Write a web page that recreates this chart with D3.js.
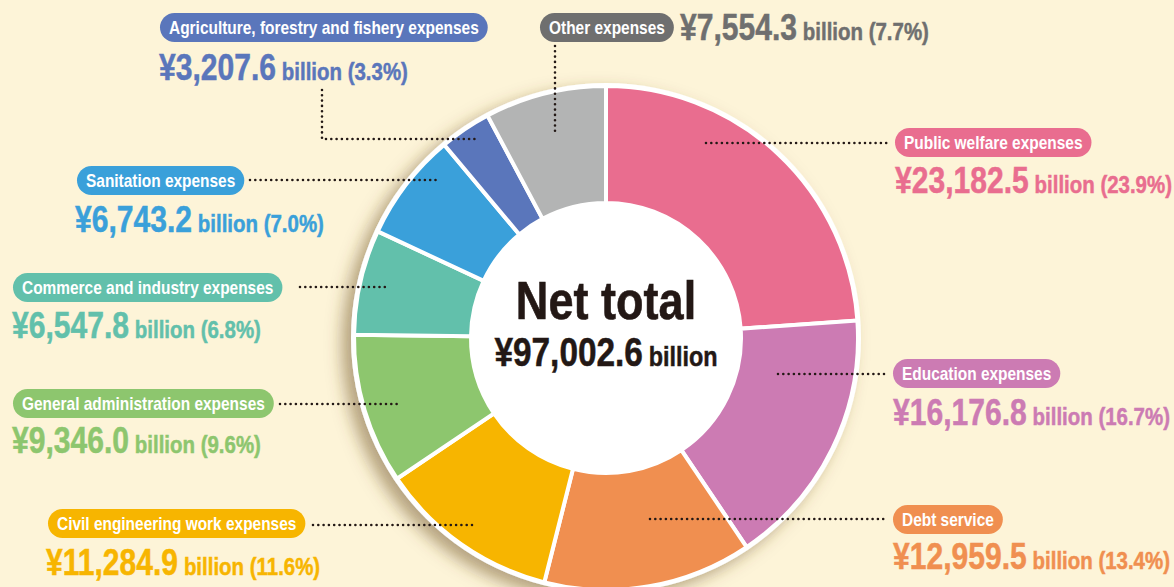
<!DOCTYPE html>
<html>
<head>
<meta charset="utf-8">
<script src="https://cdn.jsdelivr.net/npm/d3@7"></script>
<style>
  html, body { margin: 0; padding: 0; background: #fdf4d8; }
  svg { display: block; }
  text { font-family: "Liberation Sans", Arial, sans-serif; font-weight: bold; }
</style>
</head>
<body>
<div id="chart"></div>
<script>
// Data (billion yen), clockwise from 12 o'clock
const categories = [
    "Public welfare expenses",
    "Education expenses",
    "Debt service",
    "Civil engineering work expenses",
    "General administration expenses",
    "Commerce and industry expenses",
    "Sanitation expenses",
    "Agriculture, forestry and fishery expenses",
    "Other expenses"
];
const amounts = [23182.5, 16176.8, 12959.5, 11284.9, 9346.0, 6547.8, 6743.2, 3207.6, 7554.3];
const shares = [23.9, 16.7, 13.4, 11.6, 9.6, 6.8, 7.0, 3.3, 7.7];
const netTotal = 97002.6;

const colors = ["#e96d8f", "#cc7bb3", "#f08f50", "#f7b500", "#8dc66e", "#62c0ab", "#3aa0da", "#5a76bb", "#b3b4b4"];
// label colours (pill + text), only "Other" differs from its slice
const labelColors = ["#e96d8f", "#cc7bb3", "#f08f50", "#f7b500", "#8dc66e", "#62c0ab", "#3aa0da", "#5a76bb", "#6f6f6f"];

// label layout: pill top-left, value baseline, leader line
const layout = [
    { px: 895, py: 128, vx: 895, vy: 193, line: [[706, 143], [889, 143]] },
    { px: 893, py: 359, vx: 893, vy: 425, line: [[778, 374], [888, 374]] },
    { px: 893, py: 505, vx: 893, vy: 569, line: [[650, 519], [888, 519]] },
    { px: 48,  py: 509, vx: 46,  vy: 575, line: [[313, 525], [475, 525]] },
    { px: 13,  py: 389, vx: 12,  vy: 453, line: [[280, 404], [400, 404]] },
    { px: 13,  py: 273, vx: 12,  vy: 338, line: [[300, 287], [390, 287]] },
    { px: 77,  py: 166, vx: 75,  vy: 232, line: [[250, 180], [437, 180]] },
    { px: 160, py: 13,  vx: 159, vy: 80,  line: [[322, 90], [322, 139], [476, 139]] },
    { px: 540, py: 13,  vx: 680, vy: 40,  line: [[555, 46], [555, 132]] }
];

const width = 1174, height = 587;
const cx = 606, cy = 338;
const outerR = 252, innerR = 135;
const squeeze = 0.835;   // condensed look from a regular bold face

const svg = d3.select('#chart')
    .append('svg')
    .attr('width', width)
    .attr('height', height);

svg.append('rect')
    .attr('width', width)
    .attr('height', height)
    .attr('fill', '#fdf4d8');

// soft shadow under the ring
const defs = svg.append('defs');
defs.append('filter')
    .attr('id', 'shadow')
    .attr('x', '-20%').attr('y', '-20%')
    .attr('width', '140%').attr('height', '140%')
    .append('feDropShadow')
    .attr('dx', -9)
    .attr('dy', 7)
    .attr('stdDeviation', 8)
    .attr('flood-color', '#6b4e1a')
    .attr('flood-opacity', 0.5);

// text squeezed horizontally around its anchor point
function condensed(parent, x, y) {
    return parent.append('g')
        .attr('transform', `translate(${x},${y}) scale(${squeeze},1)`)
        .append('text');
}

const g = svg.append('g').attr('transform', `translate(${cx},${cy})`);

g.append('circle')
    .attr('r', outerR + 3)
    .attr('fill', '#fff')
    .attr('filter', 'url(#shadow)');

const pie = d3.pie().sort(null).value(d => d);
const arc = d3.arc().innerRadius(innerR).outerRadius(outerR);

g.selectAll('path.slice')
    .data(pie(amounts))
    .join('path')
    .attr('class', 'slice')
    .attr('d', arc)
    .attr('fill', (d, i) => colors[i])
    .attr('stroke', '#fff')
    .attr('stroke-width', 4)
    .attr('stroke-linejoin', 'miter');

g.append('circle')
    .attr('r', innerR + 1)
    .attr('fill', '#fff');

// centre text
condensed(g, 0, -19)
    .attr('text-anchor', 'middle')
    .attr('fill', '#231815')
    .attr('stroke', '#231815')
    .attr('stroke-width', 0.6)
    .style('font-size', '54px')
    .text('Net total');

const tot = condensed(g, 0, 28)
    .attr('text-anchor', 'middle')
    .attr('fill', '#231815')
    .attr('stroke', '#231815')
    .attr('stroke-width', 0.5);
tot.append('tspan').style('font-size', '40px').text('¥' + d3.format(',.1f')(netTotal));
tot.append('tspan').attr('dx', 7).style('font-size', '28px').text('billion');

// leader lines (dotted)
const lineGen = d3.line();
svg.append('g')
    .selectAll('path')
    .data(layout)
    .join('path')
    .attr('d', d => lineGen(d.line))
    .attr('fill', 'none')
    .attr('stroke', '#231815')
    .attr('stroke-width', 2.6)
    .attr('stroke-linecap', 'round')
    .attr('stroke-dasharray', '0 5.3');

// labels
const fmt = d3.format(',.1f');
const labels = svg.append('g');

categories.forEach((name, i) => {
    const L = layout[i];
    const col = labelColors[i];
    const rect = labels.append('rect')
        .attr('x', L.px)
        .attr('y', L.py)
        .attr('height', 29)
        .attr('rx', 14.5)
        .attr('fill', col);
    const t = condensed(labels, L.px + 9, L.py + 21)
        .attr('fill', '#fff')
        .style('font-size', '18.5px')
        .text(name);
    const tw = t.node().getComputedTextLength() * squeeze;
    rect.attr('width', tw + 18);

    const v = condensed(labels, L.vx, L.vy)
        .attr('fill', col)
        .attr('stroke', col)
        .attr('stroke-width', 0.5);
    v.append('tspan').style('font-size', '36px').text('¥' + fmt(amounts[i]));
    v.append('tspan').attr('dx', 7).style('font-size', '24.5px')
        .text('billion (' + shares[i].toFixed(1) + '%)');
});
</script>
</body>
</html>
